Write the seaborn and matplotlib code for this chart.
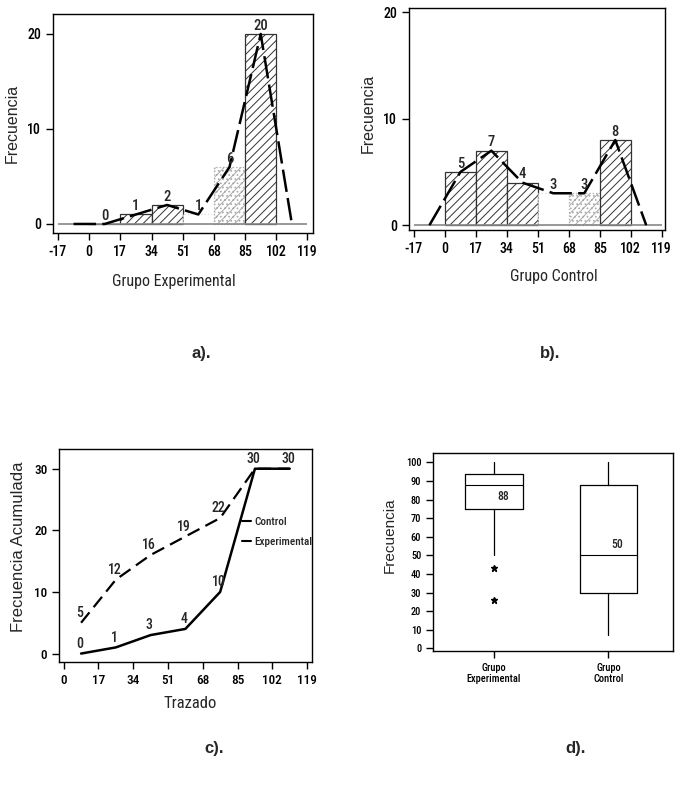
import matplotlib
matplotlib.use("Agg")
import matplotlib.pyplot as plt
from matplotlib.lines import Line2D
import seaborn as sns

# ---------------- data ----------------
bin_edges = [0, 17, 34, 51, 68, 85, 102]
class_marks = [8.5, 25.5, 42.5, 59.5, 76.5, 93.5]
freq_exp = [0, 1, 2, 1, 6, 20]
freq_ctrl = [5, 7, 4, 3, 3, 8]

poly_x = [-8.5, 8.5, 25.5, 42.5, 59.5, 76.5, 93.5, 110.5]
poly_exp = [0, 0, 1, 2, 1, 6, 20, 0]
poly_ctrl = [0, 5, 7, 4, 3, 3, 8, 0]

cum_x = [8.5, 25.5, 42.5, 59.5, 76.5, 93.5, 110.5]
cum_ctrl = [5, 12, 16, 19, 22, 30, 30]
cum_exp = [0, 1, 3, 4, 10, 30, 30]

hist_ticks = [-17, 0, 17, 34, 51, 68, 85, 102, 119]
cum_ticks = [0, 17, 34, 51, 68, 85, 102, 119]

box_labels = ["Grupo\nExperimental", "Grupo\nControl"]
box_q1 = [75, 30]
box_med = [88, 50]
box_q3 = [94, 88]
box_whislo = [50, 7]
box_whishi = [100, 100]
box_fliers = [[43, 26], []]

# ---------------- style ----------------
sns.set_style("ticks")
NARROW = ["Roboto Condensed", "Archivo Narrow", "DejaVu Sans"]
REG = ["Liberation Sans", "DejaVu Sans"]
plt.rcParams["font.family"] = NARROW
plt.rcParams["font.weight"] = 500
plt.rcParams["axes.unicode_minus"] = False
plt.rcParams["hatch.linewidth"] = 0.7
plt.rcParams["axes.linewidth"] = 1.0
plt.rcParams["xtick.major.size"] = 5
plt.rcParams["ytick.major.size"] = 5
plt.rcParams["xtick.major.width"] = 1.0
plt.rcParams["ytick.major.width"] = 1.0

W, H = 676, 808
fig = plt.figure(figsize=(W / 100, H / 100), dpi=100)


def ax_px(left, top, right, bottom):
    return fig.add_axes([left / W, 1 - bottom / H, (right - left) / W, (bottom - top) / H])


def style_axes(ax):
    for s in ax.spines.values():
        s.set_color("black")
        s.set_linewidth(1.0)
    ax.tick_params(colors="black", direction="out")


def place_labels(ax, xl, yl):
    if xl is not None:
        ax.xaxis.set_label_coords(*xl)
        ax.xaxis.label.set_va("center")
    ax.yaxis.set_label_coords(*yl)
    ax.yaxis.label.set_va("center")


def hist_panel(ax, freqs, poly_y, styles, ylim, xlim, xlabel):
    sns.histplot(x=class_marks, weights=freqs, bins=bin_edges, ax=ax,
                 stat="count", element="bars", fill=True)
    for patch, st in zip(ax.patches, styles):
        fc, ec, hatch, ls = st
        patch.set_facecolor(fc)
        patch.set_edgecolor(ec)
        patch.set_hatch(hatch)
        patch.set_linestyle(ls)
        patch.set_linewidth(0.9)
        patch.set_alpha(None)
    ax.hlines(0, hist_ticks[0], hist_ticks[-1], color="#888888", lw=1.2, zorder=1)
    sns.lineplot(x=poly_x, y=poly_y, ax=ax, color="black", lw=1.8,
                 estimator=None, sort=False, zorder=5)
    ax.lines[-1].set_dashes((9, 2.5))
    for xm, f in zip(class_marks, freqs):
        ax.annotate(str(f), (xm, f), xytext=(0, 1), textcoords="offset points",
                    ha="center", va="bottom", fontsize=10.5, family=NARROW, zorder=6)
    ax.set_xticks(hist_ticks)
    ax.set_yticks([0, 10, 20])
    ax.set_ylim(*ylim)
    ax.set_xlim(*xlim)
    ax.tick_params(labelsize=10)
    ax.set_xlabel(xlabel, fontsize=11.5, family=NARROW)
    ax.set_ylabel("Frecuencia", fontsize=11.5, family=REG, fontweight="normal")
    style_axes(ax)


HATCH = "////"
dark = ("white", "#333333", HATCH, "-")
stip = ("white", "#aaaaaa", "////....", ":")
empty = ("white", "#dddddd", "", ":")

# ---- a ----
ax_a = ax_px(53, 14, 313, 233)
hist_panel(ax_a, freq_exp, poly_exp, [dark, dark, dark, empty, stip, dark],
           (-0.95, 22.1), (-19.7, 122.0), "Grupo Experimental")
place_labels(ax_a, (0.465, -0.222), (-0.158, 0.50))

# ---- b ----
ax_b = ax_px(409, 8, 665, 230)
hist_panel(ax_b, freq_ctrl, poly_ctrl, [dark, dark, dark, empty, stip, dark],
           (-0.45, 20.4), (-19.7, 120.8), "Grupo Control")
place_labels(ax_b, (0.567, -0.21), (-0.159, 0.527))

# ---- c ----
ax_c = ax_px(59, 449, 312, 662)
sns.lineplot(x=cum_x, y=cum_ctrl, ax=ax_c, color="black", lw=1.6,
             estimator=None, sort=False)
ax_c.lines[-1].set_dashes((6, 3))
sns.lineplot(x=cum_x, y=cum_exp, ax=ax_c, color="black", lw=1.8,
             estimator=None, sort=False)
for xx, yy in zip(cum_x, cum_ctrl):
    ax_c.annotate(str(yy), (xx, yy), xytext=(-1, 2), textcoords="offset points",
                  ha="center", va="bottom", fontsize=10, family=NARROW)
for xx, yy in zip(cum_x[:5], cum_exp[:5]):
    ax_c.annotate(str(yy), (xx, yy), xytext=(-1, 2), textcoords="offset points",
                  ha="center", va="bottom", fontsize=10, family=NARROW)
ax_c.set_xticks(cum_ticks)
ax_c.set_yticks([0, 10, 20, 30])
ax_c.set_xlim(-2.3, 121.4)
ax_c.set_ylim(-1.37, 33.2)
ax_c.tick_params(labelsize=9.5)
ax_c.set_xlabel("Trazado", fontsize=12, family=NARROW)
ax_c.set_ylabel("Frecuencia Acumulada", fontsize=12, family=REG, fontweight="normal")
place_labels(ax_c, (0.518, -0.197), (-0.162, 0.541))
handles = [Line2D([], [], color="black", lw=1.5), Line2D([], [], color="black", lw=1.5)]
ax_c.legend(handles, ["Control", "Experimental"], loc="upper left",
            bbox_to_anchor=(0.725, 0.68), frameon=False, handlelength=0.8,
            handletextpad=0.25, labelspacing=0.85, borderaxespad=0, borderpad=0,
            prop={"family": NARROW, "size": 8, "weight": 500})
style_axes(ax_c)

# ---- d ----
ax_d = ax_px(433, 453, 673, 651)
stats = []
for i, lab in enumerate(box_labels):
    stats.append(dict(label=lab, q1=box_q1[i], med=box_med[i], q3=box_q3[i],
                      whislo=box_whislo[i], whishi=box_whishi[i],
                      fliers=box_fliers[i]))
ax_d.bxp(stats, positions=[0, 1], widths=0.5, showcaps=False, showfliers=True,
         boxprops=dict(color="black", lw=0.9),
         medianprops=dict(color="black", lw=0.8),
         whiskerprops=dict(color="black", lw=0.9),
         flierprops=dict(marker="*", markersize=5, markerfacecolor="black",
                         markeredgecolor="black"))
for i, m in enumerate(box_med):
    ax_d.text(i + (0.08 if i == 0 else 0.075), m - 6.3 if i == 0 else m + 5.7, str(m),
              ha="center", va="center", fontsize=8.5, family=NARROW)
ax_d.set_xlim(-0.533, 1.565)
ax_d.set_ylim(-1.45, 105.1)
ax_d.set_yticks(range(0, 101, 10))
ax_d.set_xticks([0, 1])
ax_d.set_xticklabels(box_labels, fontsize=7.5, family=NARROW)
ax_d.tick_params(axis="y", labelsize=7.5)
ax_d.set_ylabel("Frecuencia", fontsize=11, family=REG, fontweight="normal")
place_labels(ax_d, None, (-0.179, 0.586))
style_axes(ax_d)

# panel labels
for (px, py), t in zip([(201, 353), (550, 353), (214, 749), (576, 749)],
                       ["a).", "b).", "c).", "d)."]):
    fig.text(px / W, 1 - py / H, t, ha="center", va="center", fontsize=12,
             fontweight="bold", family=REG)

fig.savefig("out.png", dpi=100)
